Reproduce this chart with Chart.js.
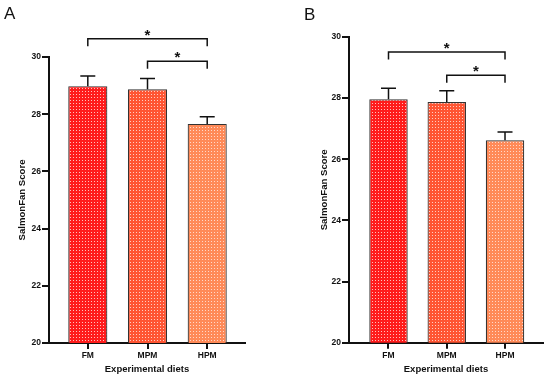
<!DOCTYPE html>
<html>
<head>
<meta charset="utf-8">
<script src="https://cdn.jsdelivr.net/npm/chart.js@4.4.1/dist/chart.umd.min.js"></script>
<style>
  html, body { margin: 0; padding: 0; background: #fff; }
  #wrap { position: relative; width: 550px; height: 379px; overflow: hidden; }
  .panel { position: absolute; top: 0; width: 275px; height: 379px; }
  .letter { position: absolute; font-family: "Liberation Sans", Arial, sans-serif; font-size: 17px; color: #111; }
</style>
</head>
<body>
<div id="wrap">
  <div class="panel" style="left:0"><canvas id="cA" width="275" height="379"></canvas></div>
  <div class="panel" style="left:275px"><canvas id="cB" width="275" height="379"></canvas></div>
  <div class="letter" style="left:4px;top:4px">A</div>
  <div class="letter" style="left:304px;top:5px">B</div>
</div>
<script>
// ---- data ----
const categories = ['FM', 'MPM', 'HPM'];
const meansA = [28.98, 28.87, 27.66];
const errA = [0.36, 0.38, 0.25];
const meansB = [27.96, 27.87, 26.62];
const errB = [0.36, 0.37, 0.27];
const yTicks = [20, 22, 24, 26, 28, 30];
// significance brackets: [fromIndex, toIndex, yValue, label]
const bracketsA = [[0, 2, 30.64, '*'], [1, 2, 29.85, '*']];
const bracketsB = [[0, 2, 29.51, '*'], [1, 2, 28.75, '*']];

const barColors = ['#ff1c1c', '#ff5533', '#ff8a58'];
const FONT = '"Liberation Sans", Arial, sans-serif';
const INK = '#111';

function makePattern(color) {
  const c = document.createElement('canvas');
  c.width = 3; c.height = 3;
  const g = c.getContext('2d');
  g.fillStyle = color; g.fillRect(0, 0, 3, 3);
  g.fillStyle = 'rgba(255,235,230,0.8)';
  g.fillRect(1, 1, 1, 1);
  return g.createPattern(c, 'repeat');
}

const annotPlugin = {
  id: 'annot',
  afterDatasetsDraw(chart, args, opts) {
    const ctx = chart.ctx;
    const xs = chart.scales.x, ys = chart.scales.y;
    ctx.save();
    ctx.strokeStyle = INK;
    ctx.lineWidth = 1.5;
    opts.means.forEach((m, i) => {
      const x = xs.getPixelForValue(i);
      const y0 = ys.getPixelForValue(m);
      const y1 = ys.getPixelForValue(m + opts.errs[i]);
      ctx.beginPath();
      ctx.moveTo(x, y0); ctx.lineTo(x, y1);
      ctx.moveTo(x - 7.5, y1); ctx.lineTo(x + 7.5, y1);
      ctx.stroke();
    });
    ctx.fillStyle = INK;
    ctx.font = 'bold 15px ' + FONT;
    ctx.textAlign = 'center';
    ctx.textBaseline = 'alphabetic';
    opts.brackets.forEach(([a, b, v, lab]) => {
      const x0 = xs.getPixelForValue(a), x1 = xs.getPixelForValue(b);
      const y = ys.getPixelForValue(v);
      ctx.beginPath();
      ctx.moveTo(x0, y + 7.5); ctx.lineTo(x0, y); ctx.lineTo(x1, y); ctx.lineTo(x1, y + 7.5);
      ctx.stroke();
      ctx.fillText(lab, (x0 + x1) / 2, y + 1);
    });
    ctx.restore();
  }
};

function makePanel(id, means, errs, brackets, g) {
  new Chart(document.getElementById(id), {
    type: 'bar',
    data: {
      datasets: [{
        data: means.map((v, i) => ({ x: i, y: v })),
        backgroundColor: barColors.map(makePattern),
        borderColor: '#333',
        borderWidth: 1.2,
        borderSkipped: 'bottom',
        barPercentage: g.barPct,
        categoryPercentage: 1
      }]
    },
    options: {
      responsive: false,
      animation: false,
      events: [],
      layout: { padding: { left: 0, right: g.padRight, top: g.padTop, bottom: 0 } },
      plugins: {
        legend: { display: false },
        tooltip: { enabled: false },
        annot: { means: means, errs: errs, brackets: brackets }
      },
      scales: {
        x: {
          type: 'linear',
          min: g.xMin, max: g.xMax,
          offset: false,
          afterBuildTicks(s) { s.ticks = categories.map((_, i) => ({ value: i })); },
          afterFit(s) { s.height = g.xHeight; },
          ticks: {
            autoSkip: false, maxRotation: 0, padding: 2,
            color: INK,
            font: { family: FONT, weight: 'bold', size: 8.5 },
            callback: (v) => categories[v]
          },
          grid: { display: true, offset: false, drawOnChartArea: false, drawTicks: true, tickLength: 6, lineWidth: 2, color: INK },
          border: { display: true, color: INK, width: 2 },
          title: {
            display: true, text: 'Experimental diets', color: INK,
            font: { family: FONT, weight: 'bold', size: 9.5 },
            padding: { top: 0, bottom: 4 }
          }
        },
        y: {
          min: 20, max: 30,
          afterBuildTicks(s) { s.ticks = yTicks.map(v => ({ value: v })); },
          afterFit(s) { s.width = g.yWidth; },
          ticks: {
            padding: 1, color: INK,
            font: { family: FONT, weight: 'bold', size: 8.5 }
          },
          grid: { display: true, offset: false, drawOnChartArea: false, drawTicks: true, tickLength: 7, lineWidth: 2, color: INK },
          border: { display: true, color: INK, width: 2 },
          title: {
            display: true, text: 'SalmonFan Score', color: INK,
            font: { family: FONT, weight: 'bold', size: 9.6 },
            padding: { top: g.yTitlePad, bottom: 0 }
          }
        }
      }
    },
    plugins: [annotPlugin]
  });
}

makePanel('cA', meansA, errA, bracketsA, {
  padRight: 30, padTop: 57, xHeight: 36, yWidth: 49, yTitlePad: 17,
  xMin: -0.65, xMax: 2.633, barPct: 0.655
});
makePanel('cB', meansB, errB, bracketsB, {
  padRight: 7, padTop: 37, xHeight: 36.3, yWidth: 74, yTitlePad: 43.6,
  xMin: -0.678, xMax: 2.652, barPct: 0.66
});
</script>
</body>
</html>
